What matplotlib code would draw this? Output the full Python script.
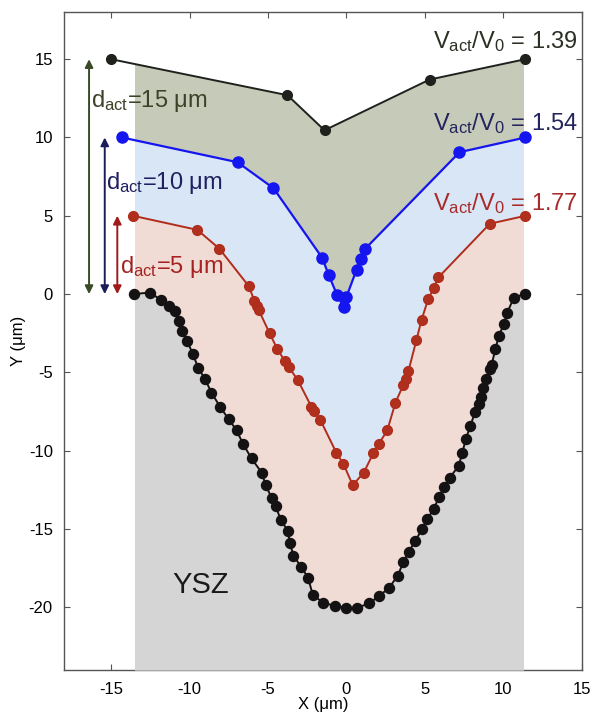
import matplotlib
matplotlib.use("Agg")
import matplotlib.pyplot as plt
from matplotlib.patches import Rectangle

plt.rcParams['font.family'] = ['Liberation Sans', 'DejaVu Sans']
plt.rcParams['mathtext.default'] = 'regular'
plt.rcParams['axes.unicode_minus'] = False

# profile of d_act = 15 um layer (top)
x15 = [-15.0, -3.76, -1.4, 5.3, 11.4]
y15 = [15.0, 12.7, 10.46, 13.7, 15.0]

# d_act = 10 um layer
x10 = [-14.3, -6.94, -4.65, -1.55, -1.13, -0.59, -0.17, 0.0, 0.64, 0.93, 1.15, 7.2, 11.4]
y10 = [10.0, 8.42, 6.76, 2.32, 1.21, -0.08, -0.83, -0.17, 1.55, 2.25, 2.85, 9.06, 10.0]

# d_act = 5 um layer
x5 = [-13.6, -9.5, -8.1, -6.22, -5.86, -5.7, -5.58, -4.9, -4.4, -3.93, -3.67, -3.1,
      -2.23, -2.08, -1.66, -0.64, -0.19, 0.4, 1.1, 1.72, 2.06, 2.6, 3.12, 3.63, 3.8,
      3.95, 4.46, 4.78, 5.2, 5.56, 5.85, 9.13, 11.4]
y5 = [5.0, 4.1, 2.9, 0.5, -0.45, -0.75, -1.04, -2.5, -3.52, -4.27, -4.66, -5.5,
      -7.2, -7.46, -8.05, -10.14, -10.86, -12.2, -11.4, -10.14, -9.57, -8.7, -6.93, -5.78, -5.4,
      -4.9, -2.92, -1.65, -0.34, 0.4, 1.06, 4.49, 5.0]

# YSZ surface
xs = [-13.55, -12.5, -11.8, -11.3, -10.9, -10.7, -10.5, -10.15, -9.8, -9.45, -9.0, -8.6,
      -8.05, -7.5, -7.0, -6.6, -6.05, -5.4, -5.15, -4.75, -4.5, -4.2, -3.75, -3.6,
      -3.38, -2.9, -2.45, -2.15, -1.5, -0.7, 0.0, 0.7, 1.44, 2.06, 2.7, 3.27, 3.61,
      3.97, 4.39, 4.82, 5.14, 5.56, 5.88, 6.2, 6.58, 7.15, 7.37, 7.6, 7.9, 8.2, 8.43,
      8.55, 8.7, 8.9, 9.15, 9.25, 9.49, 9.7, 10.02, 10.24, 10.66, 11.4]
ys = [0.0, 0.1, -0.4, -0.75, -1.1, -1.7, -2.35, -3.0, -3.8, -4.7, -5.45, -6.3,
      -7.2, -8.0, -8.7, -9.55, -10.5, -11.4, -12.2, -13.05, -13.55, -14.4, -15.1, -15.9,
      -16.7, -17.4, -18.1, -19.2, -19.7, -19.93, -20.03, -20.03, -19.75, -19.3, -18.77, -17.98, -17.14,
      -16.45, -15.75, -15.0, -14.37, -13.73, -12.99, -12.35, -11.72, -10.97, -10.17, -9.27, -8.4, -7.5, -7.03,
      -6.6, -6.0, -5.4, -4.8, -4.5, -3.5, -2.68, -1.93, -1.19, -0.23, 0.02]

ratios = ['1.39', '1.54', '1.77']
depths = ['15', '10', '5']

fig = plt.figure(figsize=(5.92, 7.18), dpi=100)
ax = fig.add_axes([0.108, 0.067, 0.875, 0.916])
ax.set_xlim(-18, 15)
ax.set_ylim(-24, 18)

clip = Rectangle((-13.48, -24), 24.71, 50, transform=ax.transData)
fills = [(x15, y15, '#c6cab8'), (x10, y10, '#d9e6f5'), (x5, y5, '#f0dcd4'), (xs, ys, '#d5d5d5')]
for i, (fx, fy, c) in enumerate(fills):
    p = ax.fill_between(fx, fy, -24, color=c, lw=0, zorder=1 + i)
    p.set_clip_path(clip)

ax.plot(x15, y15, '-o', color='#1e211c', lw=1.4, ms=7, zorder=10)
ax.plot(x10, y10, '-o', color='#1515f0', lw=1.6, ms=8, zorder=10)
ax.plot(x5, y5, '-o', color='#b02c1c', lw=1.4, ms=7, mfc='#b0301e', zorder=10)
ax.plot(xs, ys, '-o', color='#141212', lw=1.4, ms=7.2, zorder=10)

# thickness arrows
arrow_cols = ['#3a4a28', '#1c1c5a', '#a01a1a']
arrow_x = [-16.4, -15.4, -14.6]
arrow_top = [15, 10, 5]
for ax_x, top, c in zip(arrow_x, arrow_top, arrow_cols):
    ax.annotate('', xy=(ax_x, top), xytext=(ax_x, 0),
                arrowprops=dict(arrowstyle='<|-|>', color=c, lw=1.4,
                                mutation_scale=12, shrinkA=0, shrinkB=0), zorder=12)

txt_cols = ['#3b4228', '#202060', '#a62222']
d_pos = [(-16.3, 12.3), (-15.3, 7.1), (-14.45, 1.7)]
for (tx, ty), d, c in zip(d_pos, depths, txt_cols):
    ax.text(tx, ty, 'd$_{act}$=' + d + ' \u03bcm', color=c, fontsize=17, va='center', ha='left', zorder=13)

v_cols = ['#2b3024', '#24245e', '#a82a2a']
v_y = [16.1, 10.9, 5.75]
for vy, r, c in zip(v_y, ratios, v_cols):
    ax.text(14.75, vy, 'V$_{act}$/V$_{0}$ = ' + r, color=c, fontsize=17, va='center', ha='right', zorder=13)

ax.text(-9.3, -18.6, 'YSZ', fontsize=21, color='#1a1a1a', ha='center', va='center', zorder=13)

ax.set_xticks([-15, -10, -5, 0, 5, 10, 15])
ax.set_yticks([-20, -15, -10, -5, 0, 5, 10, 15])
ax.tick_params(direction='in', top=True, right=True, labelsize=12, length=4, color='#555555')
ax.tick_params(axis='x', pad=9)
ax.tick_params(axis='y', pad=8)
for s in ax.spines.values():
    s.set_color('#555555')
    s.set_linewidth(1.0)
ax.set_xlabel('X (\u03bcm)', fontsize=12, labelpad=0)
ax.set_ylabel('Y (\u03bcm)', fontsize=12, labelpad=2)

fig.savefig('out.png', dpi=100)
